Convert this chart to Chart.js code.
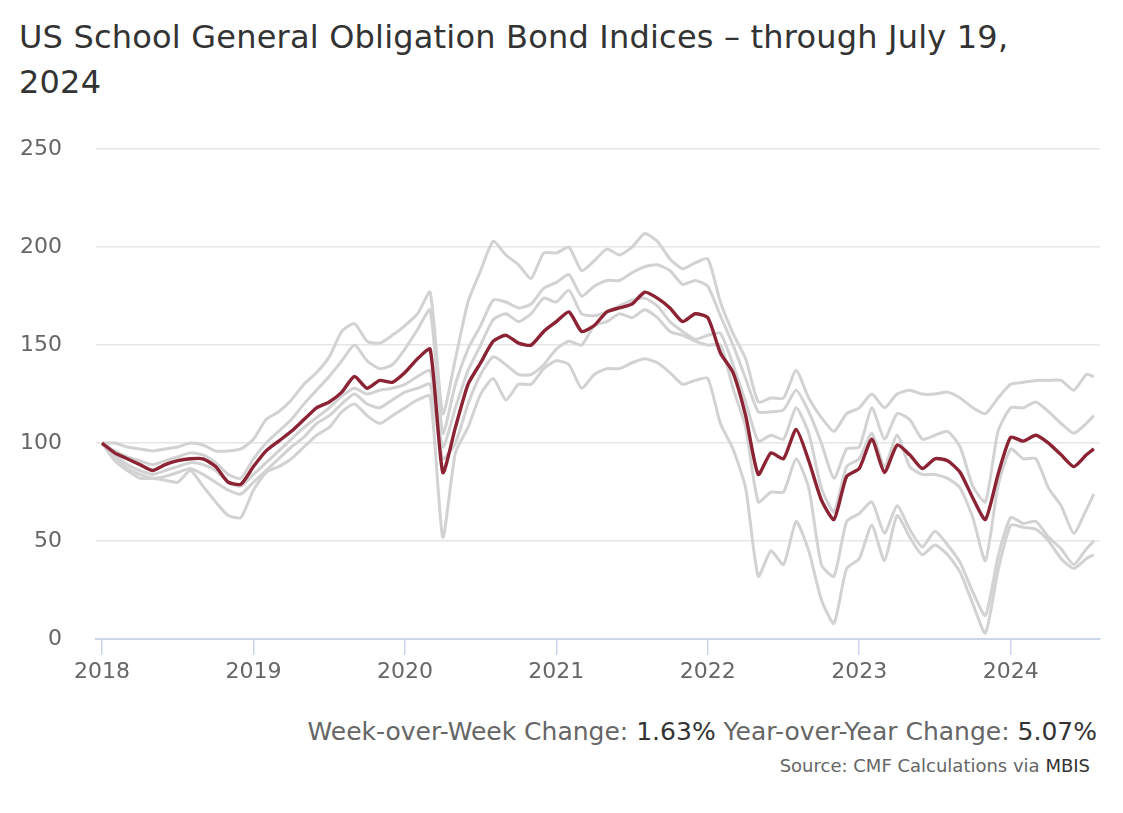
<!DOCTYPE html>
<html lang="en">
<head>
  <meta charset="UTF-8">
  <title>US School General Obligation Bond Indices</title>
  <script src="https://cdn.jsdelivr.net/npm/chart.js"></script>
  <style>
    body { margin: 0; background: #fff; font-family: "DejaVu Sans", sans-serif; }
    #wrap { position: relative; width: 1123px; height: 813px; }
    #title { position: absolute; left: 19px; top: 15px; font-size: 32px; line-height: 45px; letter-spacing: 0.2px; color: #333; }
    #chartBox { position: absolute; left: 0; top: 102px; width: 1123px; height: 588px; }
    #stats { position: absolute; right: 26px; top: 717px; font-size: 25px; color: #666; white-space: nowrap; }
    #stats span { color: #333; }
    #source { position: absolute; right: 33px; top: 755px; font-size: 18px; color: #666; white-space: nowrap; }
    #source span { color: #333; }
  </style>
</head>
<body>
  <div id="wrap">
    <div id="title">US School General Obligation Bond Indices – through July 19,<br>2024</div>
    <div id="chartBox"><canvas id="bondChart"></canvas></div>
    <div id="stats">Week-over-Week Change: <span>1.63%</span> Year-over-Year Change: <span>5.07%</span></div>
    <div id="source">Source: CMF Calculations via <span>MBIS</span></div>
  </div>

  <script>
    // monthly readings, last point is the July 19 print
    const dates = [
      '2018-01','2018-02','2018-03','2018-04','2018-05','2018-06','2018-07','2018-08','2018-09','2018-10','2018-11','2018-12',
      '2019-01','2019-02','2019-03','2019-04','2019-05','2019-06','2019-07','2019-08','2019-09','2019-10','2019-11','2019-12',
      '2020-01','2020-02','2020-03','2020-04','2020-05','2020-06','2020-07','2020-08','2020-09','2020-10','2020-11','2020-12',
      '2021-01','2021-02','2021-03','2021-04','2021-05','2021-06','2021-07','2021-08','2021-09','2021-10','2021-11','2021-12',
      '2022-01','2022-02','2022-03','2022-04','2022-05','2022-06','2022-07','2022-08','2022-09','2022-10','2022-11','2022-12',
      '2023-01','2023-02','2023-03','2023-04','2023-05','2023-06','2023-07','2023-08','2023-09','2023-10','2023-11','2023-12',
      '2024-01','2024-02','2024-03','2024-04','2024-05','2024-06','2024-07','2024-07-19'
    ];

    const schoolGO = [
      100, 95, 92, 89, 86, 89, 91, 92, 92, 88, 80, 79,
      88, 96, 101, 106, 112, 118, 121, 126, 134, 128, 132, 131,
      136, 143, 148, 85, 108, 130, 141, 152, 155, 151, 150, 157,
      162, 167, 157, 160, 167, 169, 171, 177, 174, 169, 162, 166,
      164, 146, 136, 114, 84, 95, 92, 107, 91, 71, 61, 83,
      87, 102, 85, 99, 94, 87, 92, 91, 85, 72, 61, 84,
      103, 101, 104, 100, 94, 88, 94, 97
    ];

    const peer1 = [
      100, 100, 98, 97, 96, 97, 98, 100, 99, 96, 96, 97,
      102, 112, 116, 122, 130, 136, 144, 157, 161, 152, 151, 155,
      160, 166, 177, 115, 143, 172, 188, 203, 196, 191, 184, 197,
      197, 200, 188, 193, 199, 196, 200, 207, 203, 194, 189, 192,
      194, 172, 156, 143, 121, 123, 123, 137, 123, 113, 106, 115,
      118, 125, 118, 125, 127, 125, 125, 126, 123, 118, 115, 123,
      130, 131, 132, 132, 132, 127, 135, 134
    ];

    const peer2 = [
      100, 96, 93, 91, 89, 91, 93, 95, 94, 90, 84, 82,
      92, 100, 106, 112, 120, 127, 134, 142, 150, 142, 138, 140,
      148, 158, 168, 105, 130, 148, 160, 173, 172, 169, 171, 179,
      182, 186, 175, 180, 183, 183, 187, 190, 191, 188, 181, 183,
      180, 165, 150, 133, 116, 116, 117, 127, 116, 100, 82, 97,
      98, 118, 102, 115, 112, 102, 104, 106, 98, 78, 70, 106,
      118, 118, 121, 116, 110, 105, 110, 114
    ];

    const peer3 = [
      100, 94, 89, 86, 84, 86, 88, 90, 89, 86, 80, 78,
      84, 90, 96, 102, 108, 113, 118, 124, 128, 125, 127, 128,
      130, 134, 137, 98, 118, 137, 150, 163, 166, 162, 166, 174,
      172, 178, 166, 165, 167, 170, 173, 174, 170, 162, 157, 153,
      155, 156, 140, 121, 101, 104, 102, 118, 105, 77, 65, 88,
      92, 105, 88, 104, 88, 84, 84, 82, 77, 62, 40, 78,
      97, 92, 92, 77, 68, 54, 66, 74
    ];

    const peer4 = [
      100, 93, 87, 84, 82, 83, 85, 87, 84, 80, 76, 74,
      80, 86, 92, 98, 103, 110, 114, 120, 125, 120, 118, 122,
      126, 128, 130, 92, 100, 120, 135, 144, 140, 135, 135, 140,
      148, 152, 150, 160, 162, 166, 164, 168, 164, 157, 155, 152,
      150, 150, 128, 108, 70, 75, 75, 92, 77, 38, 32, 60,
      64, 70, 54, 68, 56, 47, 55, 48, 39, 24, 12, 42,
      62, 59, 60, 52, 46, 38, 46, 50
    ];

    const peer5 = [
      100, 91, 86, 82, 82, 81, 80, 86, 78, 70, 63, 62,
      76, 85, 88, 92, 98, 104, 108, 116, 120, 114, 110, 114,
      118, 122, 124, 52, 95, 108, 125, 133, 122, 130, 130, 138,
      142, 140, 128, 135, 138, 138, 141, 143, 141, 136, 130, 132,
      133, 110, 97, 77, 32, 45, 38, 60, 45, 20, 8, 36,
      41, 58, 40, 63, 52, 43, 48, 43, 34, 18, 3, 35,
      58, 57, 56, 50, 41, 36, 41, 43
    ];

    const yearTicks = [2018, 2019, 2020, 2021, 2022, 2023, 2024];

    function toYear(s) {
      const p = s.split('-').map(Number);
      return p[0] + (p[1] - 1) / 12 + ((p[2] || 1) - 1) / 365;
    }
    const xs = dates.map(toYear);
    const pts = arr => arr.map((v, i) => ({ x: xs[i], y: v }));

    const grey = '#d2d2d2';
    const greyLine = data => ({
      data: pts(data), borderColor: grey, borderWidth: 3, pointRadius: 0, tension: 0.2, order: 1
    });

    new Chart(document.getElementById('bondChart'), {
      type: 'line',
      data: {
        datasets: [
          { label: 'School GO', data: pts(schoolGO), borderColor: '#8b2335', borderWidth: 3.4, pointRadius: 0, tension: 0.2, order: 0 },
          greyLine(peer1), greyLine(peer2), greyLine(peer3), greyLine(peer4), greyLine(peer5)
        ]
      },
      options: {
        responsive: true,
        maintainAspectRatio: false,
        animation: false,
        layout: { padding: { left: 20, right: 23, top: 29, bottom: 0 } },
        plugins: { legend: { display: false }, tooltip: { enabled: false } },
        scales: {
          x: {
            type: 'linear',
            min: 2017.96,
            max: 2024.59,
            afterBuildTicks: axis => { axis.ticks = yearTicks.map(v => ({ value: v })); },
            afterFit: scale => { scale.height = 51; },
            ticks: {
              callback: v => String(v),
              color: '#666',
              font: { family: 'DejaVu Sans', size: 22 },
              padding: 4,
              maxRotation: 0
            },
            grid: { drawOnChartArea: false, drawTicks: true, tickLength: 16, color: '#ccd6eb', lineWidth: 1.5 },
            border: { color: '#ccd6eb', width: 2 }
          },
          y: {
            min: 0,
            max: 250,
            afterFit: scale => { scale.width = 76; },
            ticks: {
              stepSize: 50,
              color: '#666',
              font: { family: 'DejaVu Sans', size: 22 },
              padding: 34
            },
            grid: { color: '#e6e6e6', lineWidth: 1.5, drawTicks: false },
            border: { display: false }
          }
        }
      }
    });
  </script>
</body>
</html>
